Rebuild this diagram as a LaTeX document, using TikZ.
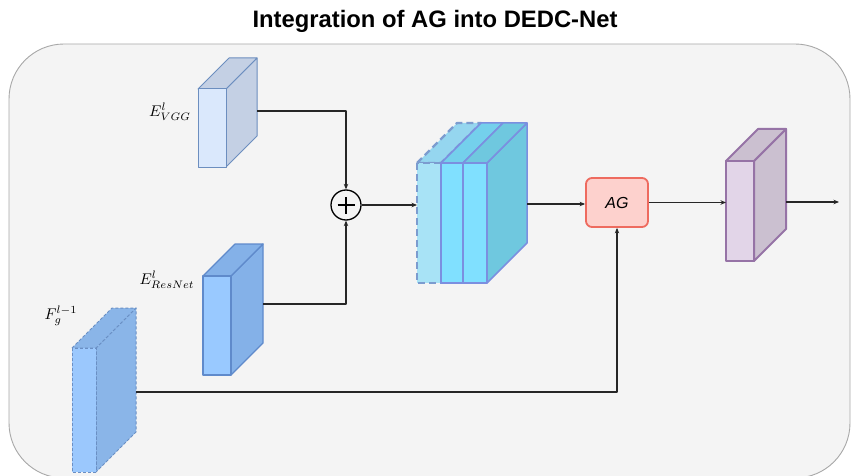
\documentclass[tikz,border=0pt]{standalone}
\usepackage{fontspec}
\newfontfamily\arialfont{Liberation Sans}
\usetikzlibrary{arrows.meta}
\definecolor{panelfill}{HTML}{F4F4F4}
\definecolor{panelline}{HTML}{A8A8A8}
\definecolor{vggfront}{HTML}{DAE8FC}
\definecolor{vggside}{HTML}{C4D0E4}
\definecolor{vggline}{HTML}{6C8EBF}
\definecolor{resfront}{HTML}{99C9FF}
\definecolor{resside}{HTML}{84B1E8}
\definecolor{resline}{HTML}{5F8ACB}
\definecolor{fgfront}{HTML}{9BC8FD}
\definecolor{fgside}{HTML}{8AB5E8}
\definecolor{fgline}{HTML}{6A8FC4}
\definecolor{catdfront}{HTML}{A8E3F6}
\definecolor{catdtop}{HTML}{95D6EF}
\definecolor{catdline}{HTML}{7C9CCF}
\definecolor{catfront}{HTML}{80E0FF}
\definecolor{cattop}{HTML}{74D0EC}
\definecolor{catside}{HTML}{6FC8DF}
\definecolor{catline}{HTML}{7B8FE0}
\definecolor{agfill}{HTML}{FDD1CD}
\definecolor{agline}{HTML}{EE6B5F}
\definecolor{pfront}{HTML}{E2D5E8}
\definecolor{pside}{HTML}{CBC0D0}
\definecolor{pline}{HTML}{9673A6}
% #1 x1, #2 y1, #3 x2, #4 y2, #5 depth, #6 front style, #7 side style
\newcommand\mycuboid[7]{%
  \path[#7] (#3,#2) -- (#3+#5,#2-#5) -- (#3+#5,#4-#5) -- (#3,#4) -- cycle;
  \path[#7] (#1,#2) -- (#1+#5,#2-#5) -- (#3+#5,#2-#5) -- (#3,#2) -- cycle;
  \path[#6] (#1,#2) rectangle (#3,#4);
}
\newcommand\biglab[1]{\scalebox{1.55}{$#1$}}
\begin{document}
\begin{tikzpicture}[x=1pt,y=-1pt,line join=round,
  conn/.style={line width=1.1pt,draw=black!85,-{Stealth[length=5.5pt,width=4.5pt]}},
  panel/.style={fill=panelfill,draw=panelline,line width=0.9pt,rounded corners=55pt},
  vggF/.style={fill=vggfront,draw=vggline,line width=1pt},
  vggS/.style={fill=vggside,draw=vggline,line width=1pt},
  resF/.style={fill=resfront,draw=resline,line width=1.2pt},
  resS/.style={fill=resside,draw=resline,line width=1.2pt},
  fgF/.style={fill=fgfront,draw=fgline,line width=1pt,dash pattern=on 3pt off 2pt},
  fgS/.style={fill=fgside,draw=fgline,line width=1pt,dash pattern=on 3pt off 2pt},
  catdF/.style={fill=catdfront,draw=catdline,line width=2.4pt,dash pattern=on 7pt off 4pt},
  catdT/.style={fill=catdtop,draw=catdline,line width=2.4pt,dash pattern=on 7pt off 4pt},
  catF/.style={fill=catfront,draw=catline,line width=1.5pt},
  catT/.style={fill=cattop,draw=catline,line width=1.5pt},
  catS/.style={fill=catside,draw=catline,line width=1.5pt},
  pF/.style={fill=pfront,draw=pline,line width=2pt},
  pS/.style={fill=pside,draw=pline,line width=2pt},
  agbox/.style={rectangle,rounded corners=6pt,fill=agfill,draw=agline,line width=1.8pt,
    minimum width=62pt,minimum height=49pt,inner sep=0pt,
    font=\arialfont\itshape\fontsize{16}{19}\selectfont},
  lab/.style={inner sep=0pt},
  sumnode/.style={circle,draw=black,line width=1.3pt,minimum size=30pt,inner sep=0pt}
]
\useasboundingbox (0,0) rectangle (851,476);
\clip (0,0) rectangle (851,476);
\fill[white] (0,0) rectangle (851,476);
\draw[panel] (9,44) rectangle (850,478);

\node[font=\arialfont\bfseries\fontsize{23.8}{27}\selectfont,inner sep=0pt] (title) at (435,21) {Integration of AG into DEDC-Net};

% VGG block
\mycuboid{198}{89}{226}{167}{31}{vggF}{vggS}
\coordinate (vggout) at (257,111);
\node[lab] (lvgg) at (170,112) {\biglab{E^{l}_{VGG}}};

% ResNet block
\mycuboid{203}{276}{231}{375}{32}{resF}{resS}
\coordinate (resout) at (263,304);
\node[lab] (lres) at (167,280) {\biglab{E^{l}_{ResNet}}};

% F_g block
\mycuboid{72}{348}{96}{472}{40}{fgF}{fgS}
\coordinate (fgout) at (136,392);
\node[lab] (lfg) at (61,316) {\biglab{F_g^{l-1}}};

% concatenated block
\path[catdT] (417,163) -- (457,123) -- (481,123) -- (441,163) -- cycle;
\path[catdF] (417,163) rectangle (441,283);
\path[catT] (441,163) -- (481,123) -- (503,123) -- (463,163) -- cycle;
\path[catF] (441,163) rectangle (463,283);
\mycuboid{463}{163}{487}{283}{40}{catF}{catS}
\coordinate (catin) at (417,204);
\coordinate (catout) at (527,204);

% purple block
\mycuboid{726}{161}{754}{261}{32}{pF}{pS}
\coordinate (pin) at (726,202);
\coordinate (pout) at (786,202);
\coordinate (pend) at (839,202);

% sum
\node[sumnode] (sum) at (346,205) {};
\draw[line width=1.3pt] ([xshift=-8.5pt]sum.center) -- ([xshift=8.5pt]sum.center)
  ([yshift=-8.5pt]sum.center) -- ([yshift=8.5pt]sum.center);

% AG
\node[agbox] (ag) at (617,202.5) {AG};

% connectors
\draw[conn] (vggout) -| (sum.north);
\draw[conn] (resout) -| (sum.south);
\draw[conn] (sum.east) -- (sum.east -| catin);
\draw[conn] (catout) -- (catout -| ag.west);
\draw[conn] (fgout) -| (ag.south);
\draw[conn] (ag.east) -- (ag.east -| pin);
\draw[conn] (pout) -- (pend);
\end{tikzpicture}
\end{document}
